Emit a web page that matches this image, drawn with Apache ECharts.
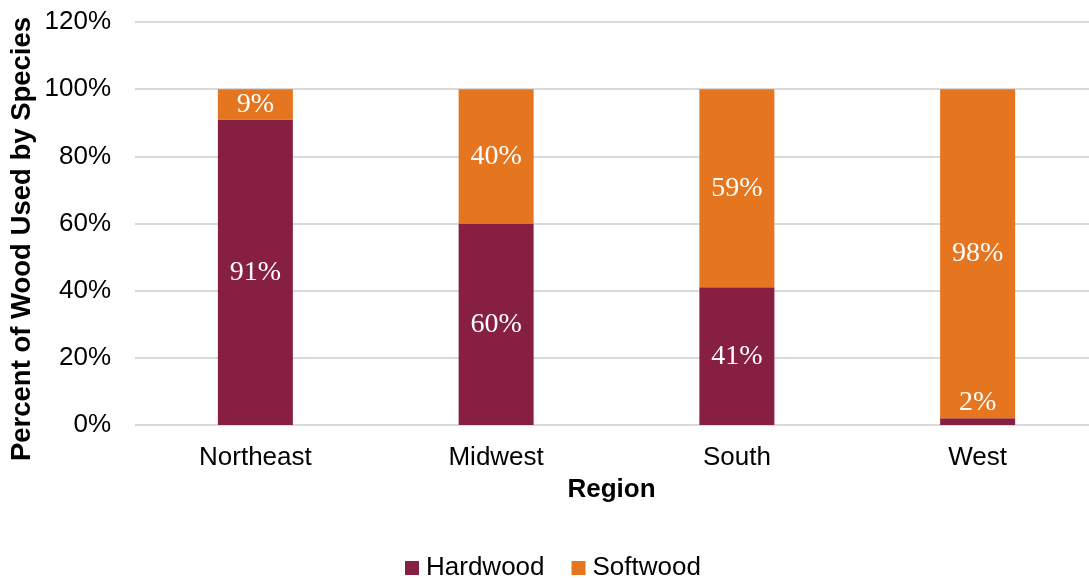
<!DOCTYPE html>
<html>
<head>
<meta charset="utf-8">
<script src="https://cdn.jsdelivr.net/npm/echarts@6/dist/echarts.min.js"></script>
<style>html,body{margin:0;padding:0;background:#fff}#c{width:1089px;height:578px}</style>
</head>
<body>
<div id="c"></div>
<script>
const categories = ['Northeast', 'Midwest', 'South', 'West'];
const hardwood = [91, 60, 41, 2];
const softwood = [9, 40, 59, 98];
const yTicks = [0, 20, 40, 60, 80, 100, 120];

const chart = echarts.init(document.getElementById('c'), null, {renderer: 'canvas'});
const labelStyle = {
  show: true,
  position: 'inside',
  color: '#ffffff',
  fontFamily: 'Liberation Serif',
  fontSize: 28,
  formatter: p => p.value + '%'
};
chart.setOption({
  animation: false,
  backgroundColor: '#ffffff',
  grid: {left: 135, top: 22, width: 963, height: 403, outerBoundsMode: 'none'},
  legend: {
    data: ['Hardwood', 'Softwood'],
    left: 400,
    top: 550,
    itemWidth: 14,
    itemHeight: 14,
    itemGap: 27,
    icon: 'rect',
    textStyle: {fontFamily: 'Liberation Sans', fontSize: 26, color: '#000', padding: [2, 0, 0, 2]}
  },
  xAxis: {
    type: 'category',
    data: categories,
    name: 'Region',
    nameLocation: 'middle',
    nameGap: 52,
    nameTextStyle: {fontFamily: 'Liberation Sans', fontSize: 26, fontWeight: 'bold', color: '#000', padding: [0, 10, 0, 0]},
    axisLine: {show: false},
    axisTick: {show: false},
    axisLabel: {fontFamily: 'Liberation Sans', fontSize: 26, color: '#000', margin: 20}
  },
  yAxis: {
    type: 'value',
    min: 0,
    max: 120,
    interval: 20,
    axisLine: {show: false},
    axisTick: {show: false},
    splitLine: {lineStyle: {color: '#d9d9d9', width: 2}},
    axisLabel: {fontFamily: 'Liberation Sans', fontSize: 26, color: '#000', margin: 24,
      formatter: v => yTicks.includes(v) ? v + '%' : ''}
  },
  graphic: [{
    type: 'text',
    x: 22,
    y: 239,
    rotation: Math.PI / 2,
    style: {
      text: 'Percent of Wood Used by Species',
      fontFamily: 'Liberation Sans',
      fontSize: 27.5,
      fontWeight: 'bold',
      fill: '#000',
      align: 'center',
      verticalAlign: 'middle'
    }
  }],
  series: [
    {
      name: 'Hardwood',
      type: 'bar',
      stack: 'wood',
      barWidth: 75,
      itemStyle: {color: '#861F41'},
      label: labelStyle,
      data: hardwood.map((v, i) => i === 3 ? {value: v, label: {position: 'top', distance: 2}} : v)
    },
    {
      name: 'Softwood',
      type: 'bar',
      stack: 'wood',
      barWidth: 75,
      itemStyle: {color: '#E5751F'},
      label: labelStyle,
      data: softwood
    }
  ]
});
</script>
</body>
</html>
